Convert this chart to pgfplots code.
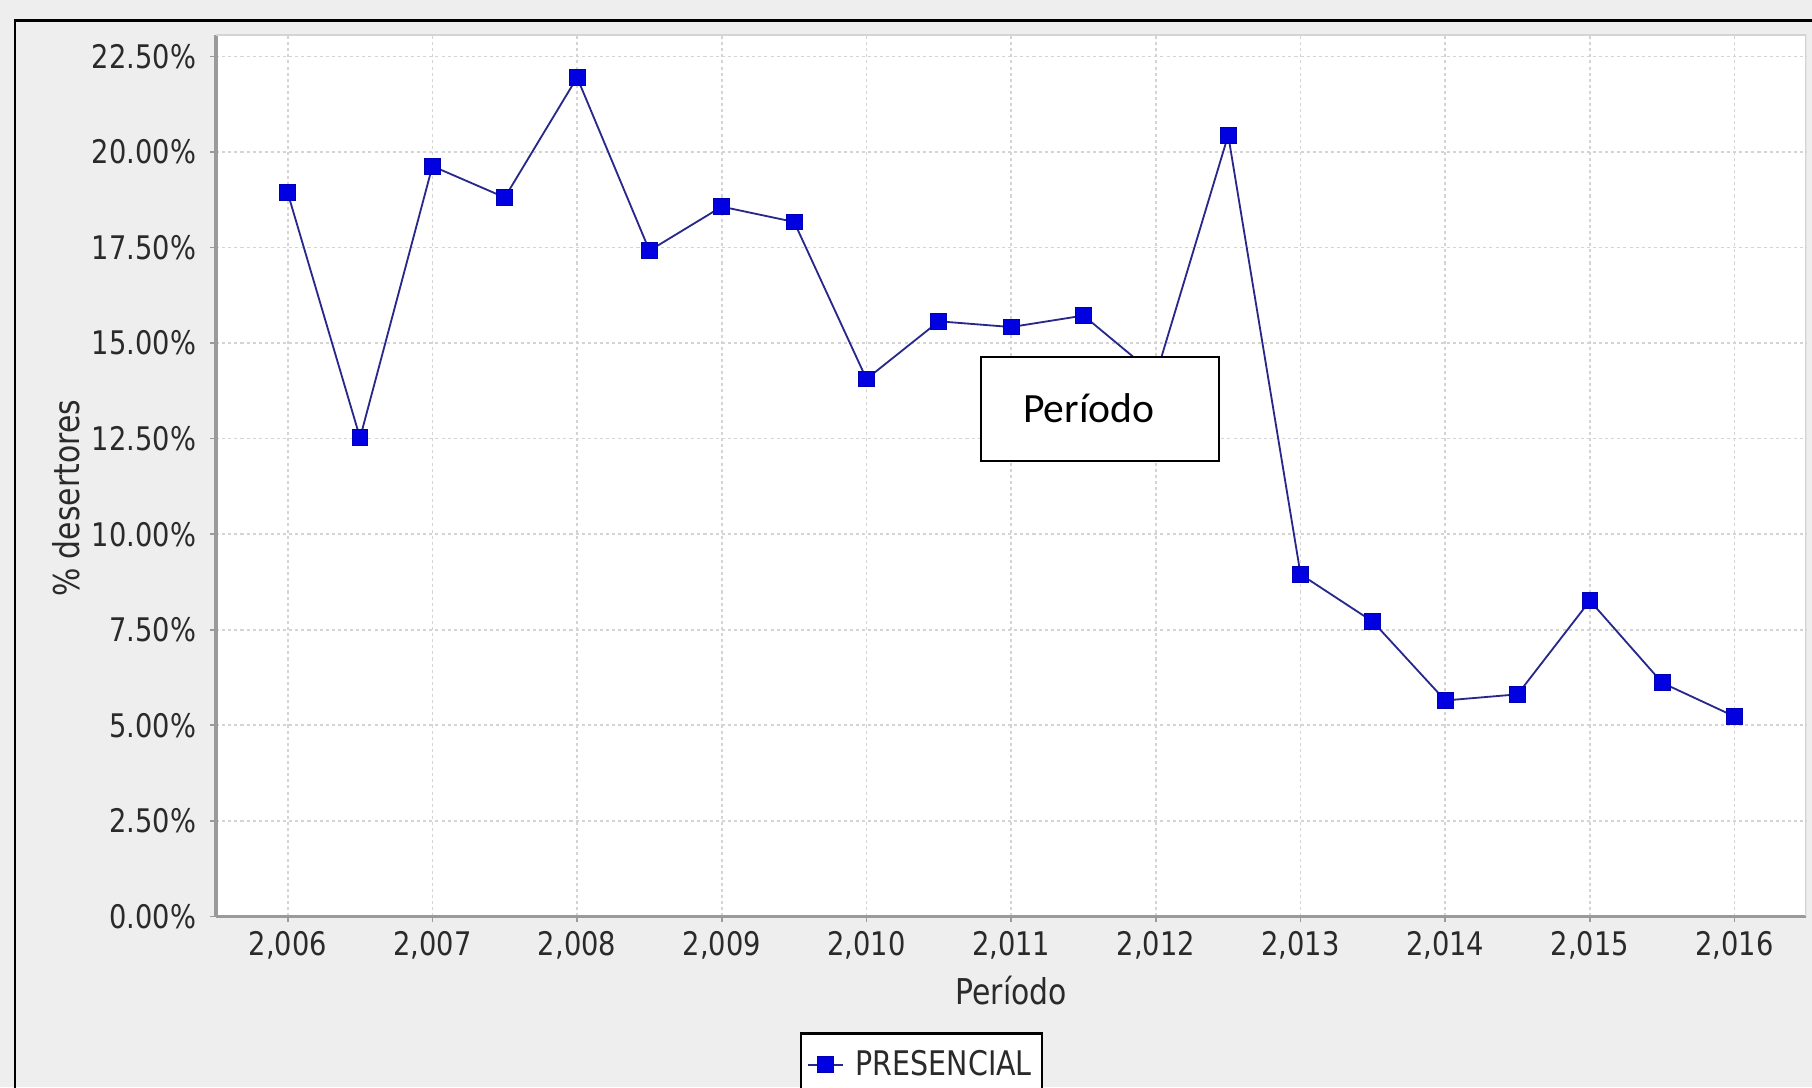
\documentclass[border=0pt]{standalone}
\usepackage{fontspec}
\setmainfont{DejaVu Sans}[FakeStretch=0.84]
\newfontfamily\carlito{Carlito}
\usepackage{pgfplots}
\usepackage{pgfplotstable}
\pgfplotsset{compat=1.18}
\definecolor{bggray}{HTML}{EEEEEE}
\definecolor{linenavy}{RGB}{40,40,140}
\definecolor{markblue}{RGB}{0,0,225}
\definecolor{gridgray}{HTML}{D4D4D4}
\definecolor{axisgray}{HTML}{9A9A9A}
\definecolor{ticktext}{HTML}{2A2A2A}

\pgfplotstableread{
x y
2006.0 18.93
2006.5 12.52
2007.0 19.63
2007.5 18.81
2008.0 21.95
2008.5 17.42
2009.0 18.57
2009.5 18.17
2010.0 14.06
2010.5 15.57
2011.0 15.42
2011.5 15.72
2012.0 14.15
2012.5 20.44
2013.0 8.95
2013.5 7.71
2014.0 5.65
2014.5 5.81
2015.0 8.26
2015.5 6.11
2016.0 5.23
}\datatable

\begin{document}
\begin{tikzpicture}
\useasboundingbox (0,0) rectangle (31.36,18.82);
\clip (0,0) rectangle (31.36,18.82);
\fill[bggray] (0,0) rectangle (31.36,18.82);
\draw[black, line width=1.3pt] (0.26,-1) -- (0.26,18.46) -- (33,18.46);
\begin{axis}[
  at={(3.74cm,2.96cm)}, anchor=south west,
  scale only axis, width=27.52cm, height=15.26cm,
  xmin=2005.505, xmax=2016.495, ymin=0, ymax=23.07,
  axis background/.style={fill=white},
  axis lines*=left,
  axis line style={draw=axisgray, line width=1.6pt},
  xtick={2006,...,2016},
  ytick={0,2.5,...,22.5},
  scaled ticks=false,
  /pgf/number format/1000 sep={,},
  /pgf/number format/assume math mode=true,
  yticklabel={\pgfmathprintnumber[fixed,fixed zerofill,precision=2]{\tick}\%},
  tick align=outside,
  major tick length=0.1cm,
  tick style={draw=axisgray, line width=0.8pt},
  grid=major,
  major grid style={draw=gridgray, dash pattern=on 1.5pt off 1.5pt, line width=0.8pt},
  ticklabel style={font=\fontsize{16}{19}\selectfont, text=ticktext},
  xticklabel style={anchor=center, inner sep=0pt, yshift=-0.4cm},
  yticklabel style={anchor=east, inner sep=0pt, xshift=-0.24cm},
  xlabel={Período},
  ylabel={\% desertores},
  label style={font=\fontsize{17.5}{20}\selectfont, text=ticktext},
  xlabel style={at={(axis description cs:0.5,-0.084)}, anchor=center},
  ylabel style={at={(axis description cs:-0.0945,0.474)}, anchor=center},
  legend style={at={(axis description cs:0.367,-0.131)}, anchor=north west,
    draw=black, line width=1.3pt, fill=white,
    font=\fontsize{16.7}{19}\selectfont, text=ticktext,
    inner xsep=3pt, inner ysep=6.5pt},
  legend cell align=left,
]
\draw[draw=gridgray, line width=1pt] (rel axis cs:0,1) -- (rel axis cs:1,1) -- (rel axis cs:1,0);
\addplot[color=linenavy, line width=0.9pt, mark=square*,
  mark size=3.9pt, mark options={fill=markblue, draw=markblue!80!black, line width=0.5pt}]
  table[x=x, y=y] {\datatable};
\addlegendentry{\hspace{0.14cm}PRESENCIAL}
\end{axis}
\draw[black, line width=0.9pt, fill=white] (16.98,10.84) rectangle (21.10,12.64);
\node[anchor=west, inner sep=0pt, font=\carlito\fontsize{20.5}{24}\selectfont] at (17.70,11.76) {Período};
\end{tikzpicture}
\end{document}
